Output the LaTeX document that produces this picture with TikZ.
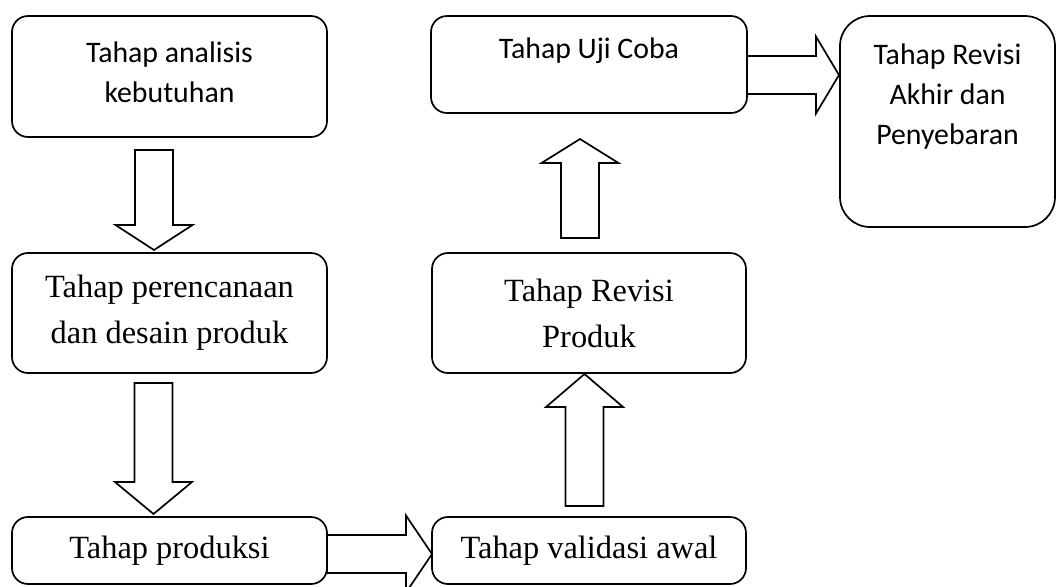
\documentclass[tikz,border=0pt]{standalone}
\usepackage{fontspec}
\setmainfont{Liberation Serif}
\newfontfamily\calfont{Carlito}
\newcommand\vblk[4]{\draw[blk] (#1-19,#2) -- (#1+19,#2) -- (#1+19,#3) -- (#1+38.5,#3) -- (#1,#4) -- (#1-38.5,#3) -- (#1-19,#3) -- cycle;}
\newcommand\hblk[4]{\draw[blk] (#2,#1-19) -- (#2,#1+19) -- (#3,#1+19) -- (#3,#1+38.5) -- (#4,#1) -- (#3,#1-38.5) -- (#3,#1-19) -- cycle;}
\begin{document}
\begin{tikzpicture}[x=0.5pt,y=-0.5pt,
 box/.style={draw, line width=0.85pt, rounded corners=8pt, minimum width=157.5pt, inner sep=0pt, align=center},
 cal/.style={font=\calfont\fontsize{14.9}{20}\selectfont},
 tms/.style={font=\fontsize{16.2}{23}\selectfont},
 blk/.style={draw, line width=0.85pt, line join=miter, fill=white}]
\useasboundingbox (0,0) rectangle (1057,586);
\node[box, minimum height=60.5pt,
  label={[name=At, cal, align=center, anchor=center, yshift=-28.5pt]north:Tahap analisis\\kebutuhan}] (A) at (169.5,76.5) {};
\node[box, tms, minimum height=60pt] (B) at (169.5,313) {Tahap perencanaan\\dan desain produk};
\node[box, tms, minimum height=33.5pt] (C) at (169.5,550.5) {Tahap produksi};
\node[box, tms, minimum width=157pt, minimum height=33.5pt] (D) at (589,550.5) {Tahap validasi awal};
\node[box, tms, minimum width=157pt, minimum height=60pt] (E) at (589,313) {Tahap Revisi\\Produk};
\node[box, minimum width=158pt, minimum height=48.5pt,
  label={[name=Ft, cal, anchor=center, yshift=-18pt]north:Tahap Uji Coba}] (F) at (589,64.5) {};
\node[box, minimum width=107.5pt, minimum height=105.5pt, rounded corners=15pt,
  label={[name=Gt, cal, align=center, anchor=center, yshift=-40.5pt]north:Tahap Revisi\\Akhir dan\\Penyebaran}] (G) at (947.5,121.5) {};
\vblk{154}{150}{225}{250}
\vblk{153.5}{383}{482}{514}
\vblk{584.5}{506}{407}{374}
\vblk{580}{238}{163}{139}
\hblk{554}{327}{406}{432}
\hblk{75}{747}{816}{839}
\end{tikzpicture}
\end{document}
